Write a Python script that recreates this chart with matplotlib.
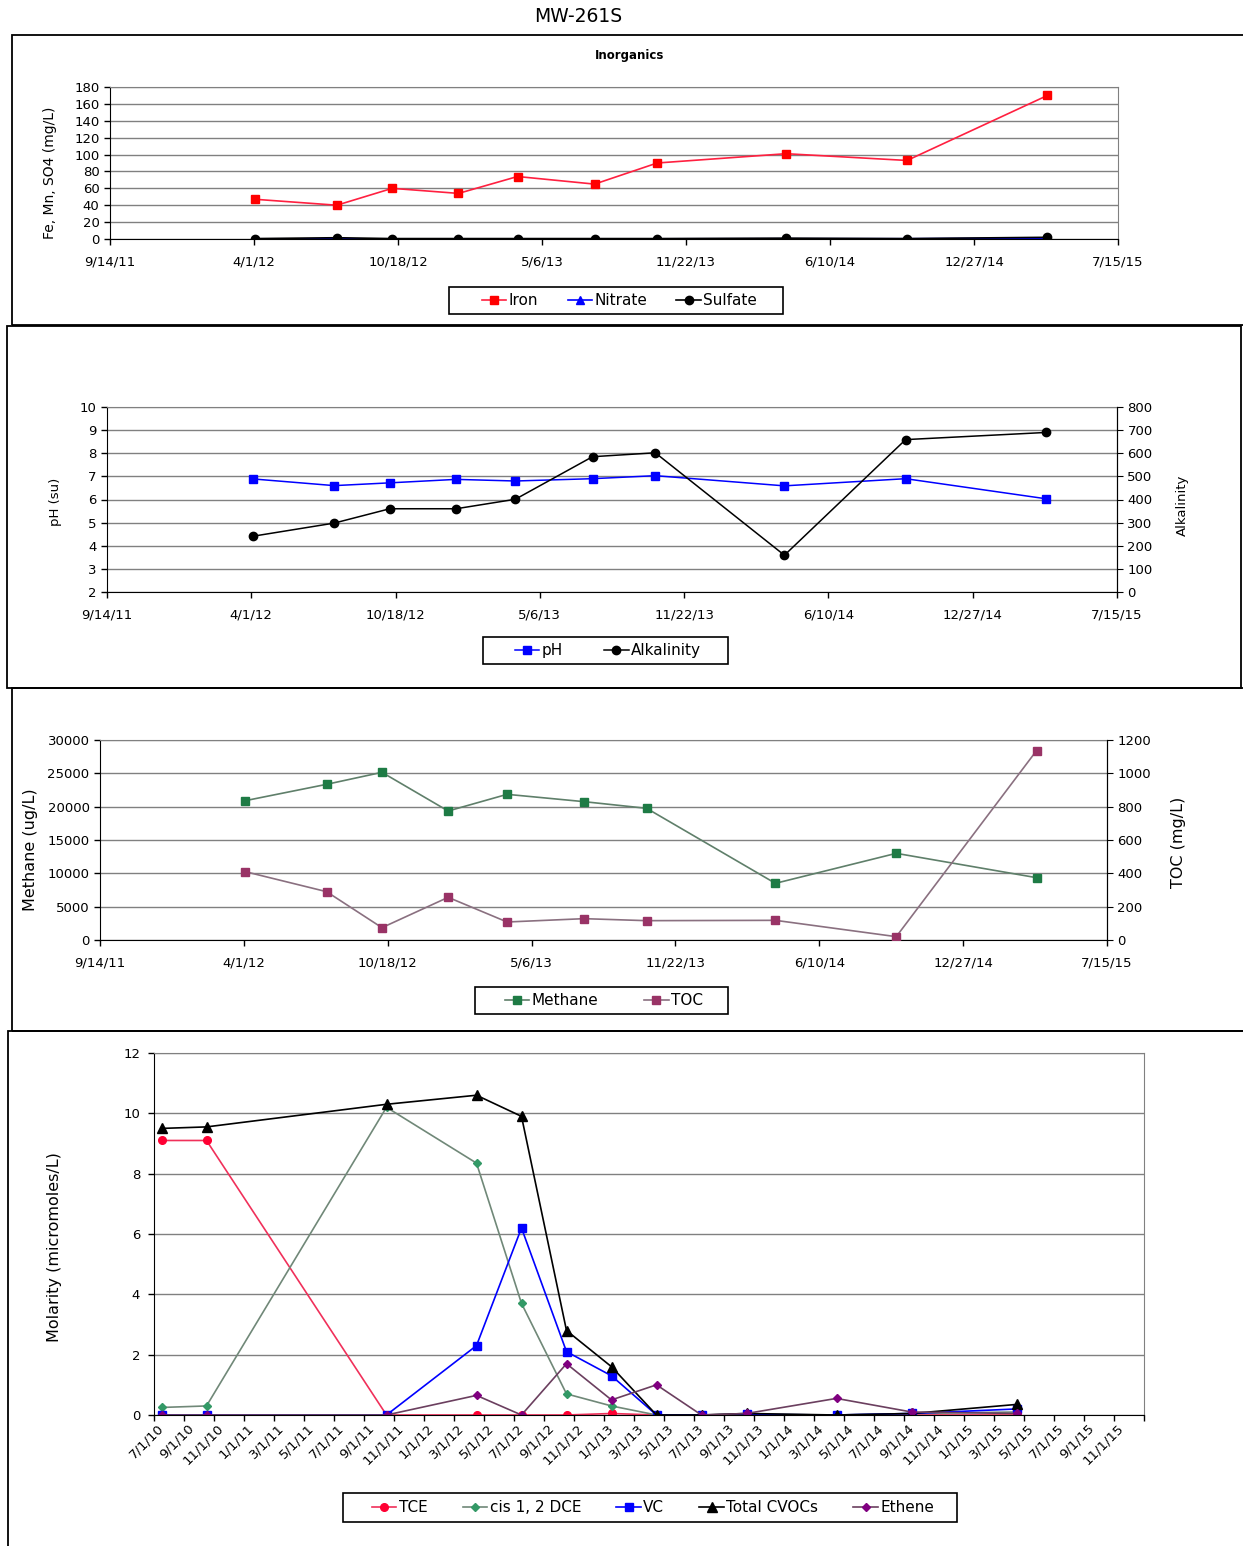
import numpy as np
import pandas as pd
import matplotlib
matplotlib.use("Agg")
import matplotlib.pyplot as plt
from matplotlib.patches import Rectangle

W, H = 1243, 1546

# ---- sampling dates shared by the three upper charts ----
dates = pd.to_datetime(['2012-04-03', '2012-07-25', '2012-10-10', '2013-01-10', '2013-04-02',
                        '2013-07-18', '2013-10-13', '2014-04-10', '2014-09-25', '2015-04-08'])
date_ticks = ['9/14/11', '4/1/12', '10/18/12', '5/6/13', '11/22/13', '6/10/14', '12/27/14', '7/15/15']

# inorganics (mg/L)
iron = [47, 40, 60, 54, 74, 65, 90, 101, 93, 170]
nitrate = [0.2, 0.2, 0.2, 0.2, 0.2, 0.2, 0.2, 0.3, 0.3, 1.0]
sulfate = [0.5, 1.5, 0.5, 0.5, 0.5, 0.5, 0.5, 1.0, 0.5, 2.0]

# pH / alkalinity
ph = [6.89, 6.6, 6.72, 6.87, 6.8, 6.9, 7.03, 6.59, 6.9, 6.03]
alkalinity = [241, 298, 360, 360, 401, 585, 602, 159, 659, 690]

# methane (ug/L) / TOC (mg/L)
methane = [20900, 23350, 25150, 19350, 21850, 20750, 19750, 8500, 13000, 9350]
toc = [410, 290, 74, 256, 108, 128, 116, 118, 20, 1136]

# ---- CVOC molarity (micromoles/L) ----
cvoc_dates = pd.to_datetime(['2010-07-01', '2010-10-01', '2011-10-01', '2012-04-01', '2012-07-01',
                             '2012-10-01', '2013-01-01', '2013-04-01', '2013-07-01', '2013-10-01',
                             '2014-04-01', '2014-09-01', '2015-04-01'])
tce = [9.1, 9.1, 0, 0, 0, 0, 0.05, 0, 0, 0, 0, 0, 0]
dce = [0.25, 0.3, 10.2, 8.35, 3.7, 0.7, 0.3, 0, 0, 0.02, 0, 0.05, 0.1]
vc = [0, 0, 0, 2.3, 6.2, 2.1, 1.3, 0, 0, 0.02, 0, 0.05, 0.2]
total_cvocs = [9.5, 9.55, 10.3, 10.6, 9.9, 2.8, 1.6, 0, 0, 0.05, 0, 0.05, 0.35]
ethene = [0, 0, 0, 0.65, 0, 1.7, 0.5, 1.0, 0, 0.05, 0.55, 0.1, 0.05]
month_labels = pd.date_range('2010-07-01', '2015-11-01', freq='2MS')

GRID = '#808080'
fig = plt.figure(figsize=(W / 100, H / 100), dpi=100)


def px_axes(l, t, r, b):
    return fig.add_axes([l / W, 1 - b / H, (r - l) / W, (b - t) / H])


def frame(l, t, r, b, lw=1.3):
    fig.add_artist(Rectangle((l / W, 1 - b / H), (r - l) / W, (b - t) / H,
                             transform=fig.transFigure, fill=False, ec='black', lw=lw))


def style(ax, right_axis=False):
    ax.set_facecolor('white')
    ax.yaxis.grid(True, color=GRID, lw=1)
    ax.set_axisbelow(True)
    ax.spines['left'].set_color('black')
    ax.spines['bottom'].set_color('black')
    ax.spines['top'].set_color(GRID)
    ax.spines['right'].set_color('black' if right_axis else GRID)
    ax.tick_params(direction='out', length=4, labelsize=9.5, width=1)


def date_axis(ax):
    pos = pd.to_datetime(date_ticks, format='%m/%d/%y')
    ax.set_xlim(pos[0], pos[-1])
    ax.set_xticks(pos)
    ax.set_xticklabels(date_ticks)
    ax.tick_params(axis='x', pad=8)


def legend(handles, box, inner, fs=11):
    # box: drawn frame (l, t, r, b) in px; inner: (l, r) span the entries fill
    l, t, r, b = box
    frame(l, t, r, b, lw=1.2)
    il, ir = inner
    fig.legend(handles=handles, loc='center', mode='expand',
               bbox_to_anchor=(il / W, 1 - b / H, (ir - il) / W, (b - t) / H),
               ncol=len(handles), frameon=False, fontsize=fs, handlelength=1.6,
               handletextpad=0.15, borderpad=0, borderaxespad=0)


# panel frames
frame(12, 35, 1260, 325)
frame(7, 326, 1241, 688)
frame(12, 688, 1260, 1031)
frame(8, 1031, 1260, 1560)

fig.text(578 / W, 1 - 17 / H, 'MW-261S', ha='center', va='center', fontsize=13.5)

# ---- panel 1: inorganics ----
ax1 = px_axes(110, 87, 1118, 239)
style(ax1)
h_iron, = ax1.plot(dates, iron, color='#FF2040', marker='s', mfc='#FF0000', mec='#FF0000', ms=6, lw=1.2, label='Iron')
h_nit, = ax1.plot(dates, nitrate, color='#0000FF', marker='^', ms=6, lw=1.2, label='Nitrate')
h_sul, = ax1.plot(dates, sulfate, color='black', marker='o', ms=6, lw=1.2, label='Sulfate')
ax1.set_ylim(0, 180)
ax1.set_yticks(np.arange(0, 181, 20))
date_axis(ax1)
fig.text(630 / W, 1 - 56 / H, 'Inorganics', ha='center', va='center', fontsize=8.5, fontweight='bold')
fig.text(50 / W, 1 - 173 / H, 'Fe, Mn, SO4 (mg/L)', rotation=90, ha='center', va='center', fontsize=10)
legend([h_iron, h_nit, h_sul], (449, 287, 783, 314), (482, 757))

# ---- panel 2: pH / alkalinity ----
ax2 = px_axes(107, 407, 1117, 592)
style(ax2, right_axis=True)
h_ph, = ax2.plot(dates, ph, color='#0000FF', marker='s', ms=6, lw=1.1, label='pH')
ax2.set_ylim(2, 10)
ax2.set_yticks(np.arange(2, 11, 1))
date_axis(ax2)
ax2b = ax2.twinx()
h_alk, = ax2b.plot(dates, alkalinity, color='black', marker='o', ms=6, lw=1.1, label='Alkalinity')
ax2b.set_ylim(0, 800)
ax2b.set_yticks(np.arange(0, 801, 100))
ax2b.tick_params(direction='out', length=4, labelsize=9.5)
for s in ['top', 'left', 'bottom']:
    ax2b.spines[s].set_visible(False)
fig.text(55 / W, 1 - 502 / H, 'pH (su)', rotation=90, ha='center', va='center', fontsize=9.5)
fig.text(1182 / W, 1 - 505 / H, 'Alkalinity', rotation=90, ha='center', va='center', fontsize=9.5)
legend([h_ph, h_alk], (483, 637, 728, 664), (515, 701))

# ---- panel 3: methane / TOC ----
ax3 = px_axes(100, 740, 1107, 940)
style(ax3, right_axis=True)
h_meth, = ax3.plot(dates, methane, color='#5F7F6A', marker='s', mfc='#1E7B45', mec='#1E7B45', ms=6, lw=1.2, label='Methane')
ax3.set_ylim(0, 30000)
ax3.set_yticks(np.arange(0, 30001, 5000))
date_axis(ax3)
ax3b = ax3.twinx()
h_toc, = ax3b.plot(dates, toc, color='#8A7080', marker='s', mfc='#993366', mec='#993366', ms=6, lw=1.2, label='TOC')
ax3b.set_ylim(0, 1200)
ax3b.set_yticks(np.arange(0, 1201, 200))
ax3b.tick_params(direction='out', length=4, labelsize=9.5)
for s in ['top', 'left', 'bottom']:
    ax3b.spines[s].set_visible(False)
fig.text(30 / W, 1 - 850 / H, 'Methane (ug/L)', rotation=90, ha='center', va='center', fontsize=11.5)
fig.text(1178 / W, 1 - 842 / H, 'TOC (mg/L)', rotation=90, ha='center', va='center', fontsize=11.5)
legend([h_meth, h_toc], (475, 987, 728, 1014), (505, 703))

# ---- panel 4: CVOCs ----
ax4 = px_axes(154, 1053, 1144, 1415)
style(ax4)
xm = (cvoc_dates.year - 2010) * 12 + cvoc_dates.month - 7
h_tce, = ax4.plot(xm, tce, color='#F0305A', marker='o', mfc='#FF0033', mec='#FF0033', ms=5.5, lw=1.2, label='TCE')
h_dce, = ax4.plot(xm, dce, color='#708878', marker='D', mfc='#339966', mec='#339966', ms=4, lw=1.2, label='cis 1, 2 DCE')
h_vc, = ax4.plot(xm, vc, color='#0000FF', marker='s', ms=5.5, lw=1.2, label='VC')
h_tot, = ax4.plot(xm, total_cvocs, color='black', marker='^', ms=6.5, lw=1.2, label='Total CVOCs')
h_eth, = ax4.plot(xm, ethene, color='#6B3F5F', marker='D', mfc='#800080', mec='#800080', ms=4, lw=1.2, label='Ethene')
ax4.set_ylim(0, 12)
ax4.set_yticks(np.arange(0, 13, 2))
ax4.set_xlim(-0.5, 65.5)
ax4.set_xticks(np.arange(-0.5, 66, 2))
ax4.set_xticklabels([])
lab_x = (month_labels.year - 2010) * 12 + month_labels.month - 7
ax4.set_xticks(lab_x, minor=True)
ax4.set_xticklabels([f'{d.month}/1/{d.year % 100}' for d in month_labels], minor=True,
                    rotation=45, ha='right', va='center', rotation_mode='anchor')
ax4.tick_params(axis='x', which='minor', length=0, pad=8, labelsize=9.5)
ax4.tick_params(axis='y', pad=6)
fig.text(55 / W, 1 - 1247 / H, 'Molarity (micromoles/L)', rotation=90, ha='center', va='center', fontsize=11.5)
legend([h_tce, h_dce, h_vc, h_tot, h_eth], (343, 1493, 957, 1522), (372, 934))

fig.savefig('out.png', dpi=100, facecolor='white')
